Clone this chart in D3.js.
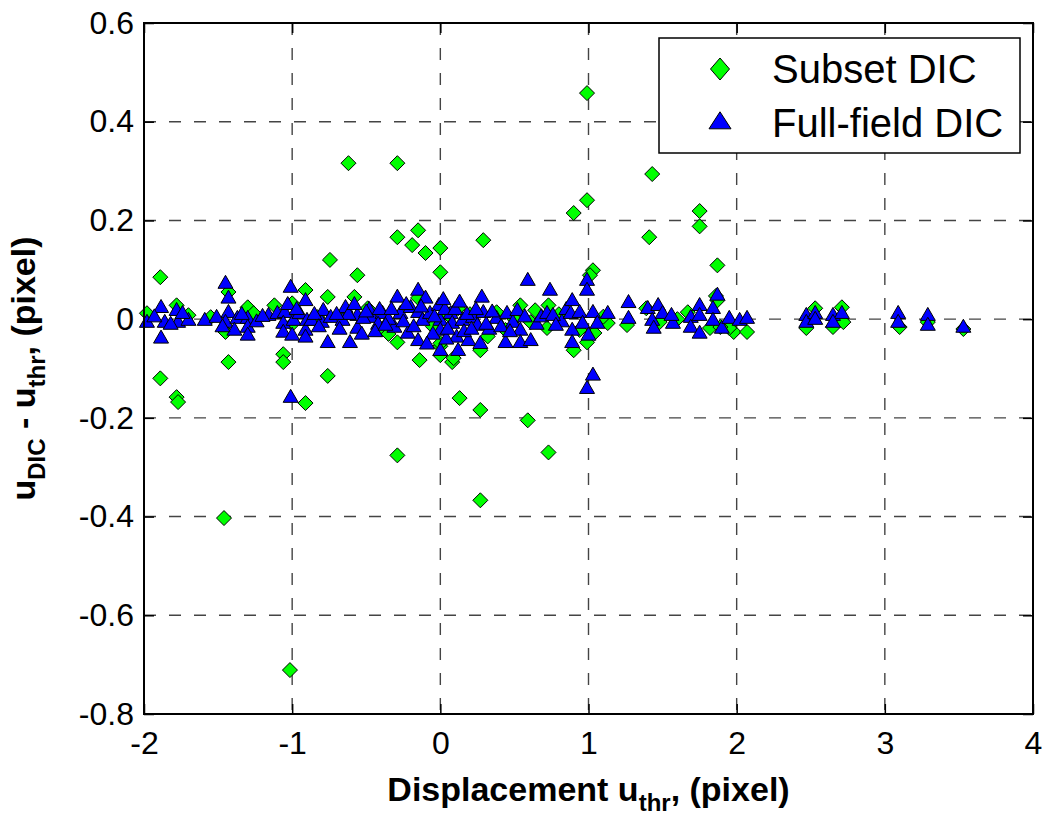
<!DOCTYPE html>
<html>
<head>
<meta charset="utf-8">
<script src="https://cdn.jsdelivr.net/npm/d3@7"></script>
<style>
  body { margin: 0; background: #fff; }
  svg { display: block; font-family: "Liberation Sans", Arial, Helvetica, sans-serif; }
  .grid line { stroke: #444; stroke-width: 1.4; stroke-dasharray: 12, 13; }
  .tick text { fill: #000; }
</style>
</head>
<body>
<div id="chart"></div>
<script>
var width = 1050, height = 815;
var margin = {left: 144, right: 17, top: 23, bottom: 101};

// axis ticks
var xTicks = [-2, -1, 0, 1, 2, 3, 4];
var yTicks = [-0.8, -0.6, -0.4, -0.2, 0, 0.2, 0.4, 0.6];
var seriesNames = ["Subset DIC", "Full-field DIC"];

// Subset DIC, [u_thr, u_DIC - u_thr]
var subsetDIC = [
  [-1.89, 0.085], [-1.89, -0.12], [-1.78, -0.158], [-1.77, -0.168], [-1.43, 0.055], [-1.43, -0.087],
  [-1.46, -0.403], [-1.015, -0.711], [-1.06, -0.071], [-1.06, -0.087], [-0.91, 0.059], [-0.91, -0.17],
  [-0.745, 0.12], [-0.76, -0.115], [-0.62, 0.316], [-0.56, 0.089], [-0.58, 0.045], [-0.29, 0.316],
  [-0.29, 0.166], [-0.29, -0.276], [-0.19, 0.15], [-0.15, 0.18], [-0.10, 0.134], [-0.14, -0.083],
  [0.00, 0.144], [0.00, 0.095], [0.00, -0.055], [0.00, -0.073], [0.08, -0.087], [0.13, -0.16],
  [0.27, -0.184], [0.29, 0.16], [0.27, -0.367], [0.59, -0.205], [0.73, -0.27], [0.90, 0.215],
  [0.90, -0.063], [0.99, 0.458], [0.99, 0.241], [1.03, 0.099], [1.01, 0.089], [1.41, 0.166],
  [1.43, 0.294], [1.75, 0.219], [1.75, 0.188], [1.87, 0.109], [1.86, 0.047], [1.98, -0.026],
  [-1.98, 0.012], [-1.78, 0.028], [-1.45, -0.026], [-1.30, 0.024], [-1.26, 0.012], [-1.12, 0.028],
  [-1.00, 0.032], [-0.76, 0.045], [-0.83, 0.004], [-0.49, 0.022], [-0.15, 0.043], [-0.29, -0.047],
  [0.00, -0.049], [0.09, -0.079], [0.12, 0.022], [0.27, -0.063], [0.44, -0.022], [0.54, 0.028],
  [0.61, -0.006], [0.64, 0.018], [0.38, 0.014], [0.73, 0.028], [0.72, -0.018], [0.99, -0.047],
  [1.04, -0.028], [1.13, -0.008], [1.26, -0.012], [1.39, 0.022], [1.48, -0.006], [1.67, 0.014],
  [1.82, -0.018], [1.95, -0.018], [1.87, 0.038], [0.94, -0.022], [1.89, -0.016], [2.07, -0.026],
  [2.53, 0.022], [2.71, 0.024], [2.65, -0.016], [2.72, -0.006], [2.47, -0.018], [3.10, -0.016],
  [3.29, -0.006], [3.53, -0.02], [-1.70, 0.008], [-1.55, 0.004], [-0.66, 0.006], [-0.40, -0.02],
  [0.20, 0.01], [0.50, 0.0], [1.10, 0.005], [1.60, 0.0], [-0.35, -0.03], [0.05, 0.01],
  [0.32, -0.035], [-1.00, -0.01], [0.80, 0.01], [-0.05, -0.015]
];

// Full-field DIC, [u_thr, u_DIC - u_thr]
var fullFieldDIC = [
  [-1.98, -0.006], [-1.885, 0.024], [-1.885, -0.038], [-1.86, -0.006], [-1.78, 0.018], [-1.77, -0.006],
  [-1.70, -0.002], [-1.59, -0.002], [-1.51, 0.004], [-1.45, 0.073], [-1.43, 0.043], [-1.43, 0.014],
  [-1.45, -0.006], [-1.37, 0.002], [-1.39, -0.022], [-1.30, 0.002], [-1.30, -0.016], [-1.30, -0.032],
  [-1.16, 0.008], [-1.10, 0.012], [-1.05, 0.014], [-1.01, 0.065], [-1.06, -0.008], [-1.06, -0.026],
  [-1.00, -0.032], [-0.99, -0.002], [-0.95, 0.012], [-0.91, 0.038], [-0.90, -0.002], [-0.91, -0.022],
  [-0.91, -0.036], [-0.87, -0.002], [-0.80, -0.006], [-0.79, 0.018], [-0.74, 0.004], [-0.76, -0.047],
  [-1.01, -0.158],
  [-1.93, 0.005], [-1.82, -0.01], [-1.74, 0.012], [-1.47, -0.015], [-1.34, 0.01], [-1.24, -0.005],
  [-1.20, 0.006], [-1.03, 0.03], [-0.97, 0.02], [-0.85, 0.01], [-0.82, -0.015],
  [-0.64, 0.024], [-0.66, -0.002], [-0.61, -0.047], [-0.56, 0.008], [-0.56, -0.018], [-0.46, 0.004],
  [-0.39, 0.012], [-0.31, -0.016], [-0.29, 0.045], [-0.27, 0.012], [-0.22, -0.028], [-0.20, 0.024],
  [-0.15, 0.059], [-0.15, 0.014], [-0.15, -0.043], [-0.10, 0.043], [-0.12, -0.002], [-0.07, 0.012],
  [-0.01, 0.028], [0.00, -0.002], [0.00, -0.022], [0.00, -0.063], [0.07, 0.012], [0.08, -0.008],
  [0.11, -0.036], [0.12, -0.063], [0.15, -0.002], [0.19, -0.043], [0.22, 0.004], [0.25, -0.012],
  [0.28, 0.045], [0.29, 0.014], [0.27, -0.049], [0.38, 0.002], [0.44, -0.047], [0.45, 0.012],
  [0.49, -0.006], [0.52, 0.018], [0.54, -0.022], [0.54, -0.047], [0.61, -0.043], [0.59, 0.079],
  [-0.52, 0.002], [-0.42, -0.01], [-0.35, 0.0], [-0.05, -0.03], [0.03, 0.02], [0.18, 0.01],
  [0.33, -0.02], [-0.62, 0.01], [-0.48, 0.02], [0.04, -0.04], [-0.09, -0.05],
  [-0.70, 0.01], [-0.68, -0.02], [-0.58, 0.03], [-0.53, -0.03], [-0.50, 0.015], [-0.44, -0.025],
  [-0.41, 0.02], [-0.37, -0.012], [-0.33, 0.02], [-0.25, -0.005], [-0.23, 0.03], [-0.18, -0.015],
  [-0.13, 0.025], [-0.04, 0.005], [0.02, 0.04], [0.05, -0.02], [0.10, 0.02], [0.13, 0.035],
  [0.16, -0.025], [0.21, -0.02], [0.24, 0.02], [0.31, -0.01], [0.35, 0.015], [0.41, -0.015],
  [0.47, -0.025], [0.57, 0.005], [0.65, -0.01], [0.68, 0.005], [0.82, -0.005], [0.85, 0.02],
  [0.74, 0.059], [0.72, 0.012], [0.76, 0.008], [0.78, -0.012], [0.89, 0.038], [0.88, 0.012],
  [0.89, -0.022], [0.89, -0.047], [0.94, 0.014], [0.96, -0.008], [0.99, 0.079], [0.99, 0.059],
  [1.00, -0.032], [1.03, 0.014], [1.06, -0.008], [1.13, 0.012], [1.27, 0.034], [1.27, 0.002],
  [1.40, 0.022], [1.43, -0.002], [1.44, -0.018], [1.47, 0.028], [1.50, 0.012], [1.57, -0.008],
  [1.56, 0.008], [1.69, 0.004], [1.69, -0.016], [1.75, 0.028], [1.75, 0.008], [1.75, -0.028],
  [1.84, 0.022], [1.84, -0.002], [1.87, 0.049], [1.90, -0.018], [1.95, 0.002], [1.03, -0.113],
  [0.99, -0.14], [2.02, -0.002], [2.07, 0.002],
  [2.47, 0.008], [2.47, -0.006], [2.53, 0.012], [2.53, 0.0], [2.65, 0.008], [2.71, 0.012],
  [2.65, -0.006], [3.09, 0.012], [3.09, -0.006], [3.29, 0.008], [3.29, -0.012], [3.53, -0.016]
];

// marker shapes (half width, height)
function diamond(w, h) {
    return "M0," + (-h) + "L" + w + ",0L0," + h + "L" + (-w) + ",0Z";
}
function triangle(w, h) {
    return "M0," + (-h * 0.6) + "L" + w + "," + (h * 0.4) + "L" + (-w) + "," + (h * 0.4) + "Z";
}
// plain hyphen for negatives, like the original figure
function fmt(d) {
    return String(Math.round(d * 10) / 10).replace("\u2212", "-");
}

var svg = d3.select("#chart").append("svg")
    .attr("width", width)
    .attr("height", height);

var x = d3.scaleLinear().domain([-2, 4]).range([margin.left, width - margin.right]);
var y = d3.scaleLinear().domain([-0.8, 0.6]).range([height - margin.bottom, margin.top]);

var x0 = x.range()[0], x1 = x.range()[1], y0 = y.range()[0], y1 = y.range()[1];

// dashed grid
var grid = svg.append("g").attr("class", "grid");
grid.selectAll(".gx").data(xTicks.slice(1, -1)).enter().append("line")
    .attr("x1", d => x(d)).attr("x2", d => x(d))
    .attr("y1", y1).attr("y2", y0);
grid.selectAll(".gy").data(yTicks.slice(1, -1)).enter().append("line")
    .attr("x1", x0).attr("x2", x1)
    .attr("y1", d => y(d)).attr("y2", d => y(d));

// axes with inward ticks
svg.append("g")
    .attr("transform", "translate(0," + y0 + ")")
    .call(d3.axisBottom(x).tickValues(xTicks).tickSize(-10).tickSizeOuter(0).tickPadding(17).tickFormat(fmt));
svg.append("g")
    .attr("transform", "translate(" + x0 + ",0)")
    .call(d3.axisLeft(y).tickValues(yTicks).tickSize(-10).tickSizeOuter(0).tickPadding(10).tickFormat(fmt));
svg.append("g")
    .attr("transform", "translate(0," + y1 + ")")
    .call(d3.axisTop(x).tickValues(xTicks).tickSize(-10).tickSizeOuter(0).tickFormat(""));
svg.append("g")
    .attr("transform", "translate(" + x1 + ",0)")
    .call(d3.axisRight(y).tickValues(yTicks).tickSize(-10).tickSizeOuter(0).tickFormat(""));

svg.selectAll(".domain").remove();
svg.selectAll(".tick line").attr("stroke", "#000").attr("stroke-width", 1.5);
svg.selectAll(".tick text").style("font-size", "32px");

// subset DIC markers
svg.append("g").selectAll("path")
    .data(subsetDIC).enter().append("path")
    .attr("d", diamond(7.5, 7.5))
    .attr("transform", d => "translate(" + x(d[0]) + "," + y(d[1]) + ")")
    .attr("fill", "#00ff00")
    .attr("stroke", "#000")
    .attr("stroke-width", 1);

// full-field DIC markers
svg.append("g").selectAll("path")
    .data(fullFieldDIC).enter().append("path")
    .attr("d", triangle(7.5, 13))
    .attr("transform", d => "translate(" + x(d[0]) + "," + y(d[1]) + ")")
    .attr("fill", "#0000ff")
    .attr("stroke", "#000")
    .attr("stroke-width", 1);

// frame
svg.append("rect")
    .attr("x", x0).attr("y", y1)
    .attr("width", x1 - x0).attr("height", y0 - y1)
    .attr("fill", "none").attr("stroke", "#000").attr("stroke-width", 2);

// legend
var legend = svg.append("g").attr("transform", "translate(659,38)");
legend.append("rect")
    .attr("width", 361).attr("height", 115)
    .attr("fill", "#fff").attr("stroke", "#000").attr("stroke-width", 1.5);
legend.append("path")
    .attr("d", diamond(9.5, 11))
    .attr("transform", "translate(61,31)")
    .attr("fill", "#00ff00").attr("stroke", "#000");
legend.append("path")
    .attr("d", triangle(11, 17))
    .attr("transform", "translate(61,84)")
    .attr("fill", "#0000ff").attr("stroke", "#000");
legend.selectAll("text").data(seriesNames).enter().append("text")
    .attr("x", 113)
    .attr("y", (d, i) => 45 + i * 54)
    .style("font-size", "40px")
    .text(d => d);

// axis labels
var xl = svg.append("text")
    .attr("x", (x0 + x1) / 2)
    .attr("y", 801)
    .attr("text-anchor", "middle")
    .style("font-size", "34px")
    .style("font-weight", "bold");
xl.append("tspan").text("Displacement u");
xl.append("tspan").attr("dy", 10).style("font-size", "24px").text("thr");
xl.append("tspan").attr("dy", -10).text(", (pixel)");

var yl = svg.append("text")
    .attr("transform", "translate(35," + ((y0 + y1) / 2) + ") rotate(-90)")
    .attr("text-anchor", "middle")
    .style("font-size", "34px")
    .style("font-weight", "bold");
yl.append("tspan").text("u");
yl.append("tspan").attr("dy", 10).style("font-size", "24px").text("DIC");
yl.append("tspan").attr("dy", -10).text(" - u");
yl.append("tspan").attr("dy", 10).style("font-size", "24px").text("thr");
yl.append("tspan").attr("dy", -10).text(", (pixel)");
</script>
</body>
</html>
